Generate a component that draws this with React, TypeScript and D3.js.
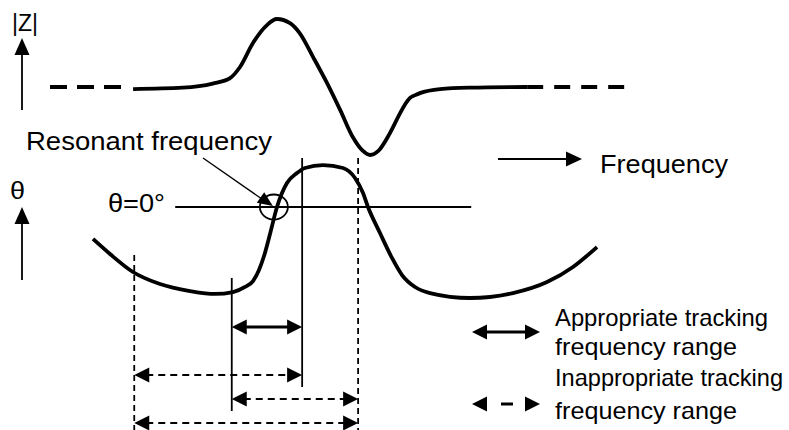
import React from "react";
import * as d3 from "d3";

// ---------- data (frequency in arbitrary units 0..100) ----------
// |Z| relative to its off-resonance level: 0 = flat, +1 = peak, -1 = dip
const impedanceFreq = [14.4, 23.0, 28.2, 31.2, 32.9, 35.2, 37.6, 39.3, 41.6, 43.3, 45.6, 48.0, 50.3, 52.5, 54.1, 55.5, 56.9, 58.9, 60.7, 61.5, 62.4, 63.3, 64.1, 67.6, 72.8, 82.7];
const impedanceValue = [-0.03, -0.01, 0.05, 0.13, 0.29, 0.65, 0.91, 1.0, 0.94, 0.79, 0.44, 0.06, -0.34, -0.74, -0.93, -1.0, -0.94, -0.68, -0.38, -0.26, -0.16, -0.12, -0.09, -0.03, -0.01, 0.0];
const impedanceDashedLeft = [0, 12.5];
const impedanceDashedRight = [82.7, 100];

// phase angle θ in degrees
const phaseFreq = [7.45, 10.4, 14.38, 19.06, 24.26, 28.6, 31.72, 33.8, 35.18, 36.22, 37.09, 38.13, 39.34, 41.07, 42.81, 44.19, 47.31, 50.78, 52.86, 54.25, 55.11, 57.19, 59.27, 61.01, 63.26, 65.86, 72.79, 80.24, 86.14, 90.64, 94.8];
const phaseValue = [-31.6, -46.5, -64.3, -76.2, -83.1, -86.0, -84.1, -79.1, -73.2, -62.3, -48.5, -26.7, 0, 23.7, 33.6, 38.6, 41.5, 38.6, 28.7, 13.8, 0, -25.7, -50.4, -67.3, -79.1, -85.1, -90, -85.1, -74.2, -59.3, -39.6];

const resonantFreq = 38.8;
const zeroLineFreq = [21.7, 73.0];
const boundaryFreqs = [14.6, 31.5, 43.7, 53.4];
const boundaryKinds = ["dashed", "solid", "solid", "dashed"];
const rangeFrom = [31.5, 14.6, 31.5, 14.6];
const rangeTo = [43.7, 43.7, 53.4, 53.4];
const rangeKinds = ["appropriate", "inappropriate", "inappropriate", "inappropriate"];
const legendKinds = ["appropriate", "inappropriate"];
const legendLines = [
  ["Appropriate tracking", "frequency range"],
  ["Inappropriate tracking", "frequency range"],
];

// ---------- layout ----------
const W = 789;
const H = 430;
const FONT = "'Liberation Sans', Arial, Helvetica, sans-serif";
const boundaryTop = [255, 278, 158, 158];
const boundaryBottom = [430, 411, 387, 430];
const rangeRowY = [327, 375, 399, 423];

const x = d3.scaleLinear().domain([0, 100]).range([50, 627]);
const yZ = d3.scaleLinear().domain([-1, 1]).range([155, 19]);
const yT = d3.scaleLinear().domain([-90, 90]).range([298, 116]);

function head(tx: number, ty: number, dx: number, dy: number, len = 15, half = 7.5) {
  const n = Math.hypot(dx, dy);
  const ux = dx / n, uy = dy / n;
  const bx = tx - ux * len, by = ty - uy * len;
  const px = -uy * half, py = ux * half;
  return `${tx},${ty} ${bx + px},${by + py} ${bx - px},${by - py}`;
}

function DoubleArrow({ x1, x2, y, kind }: { x1: number; x2: number; y: number; kind: string }) {
  const solid = kind === "appropriate";
  return (
    <g>
      <line x1={x1 + 12} x2={x2 - 12} y1={y} y2={y} stroke="#000"
        strokeWidth={solid ? 3 : 2} strokeDasharray={solid ? undefined : "7,5"} />
      <polygon points={head(x1, y, -1, 0)} fill="#000" />
      <polygon points={head(x2, y, 1, 0)} fill="#000" />
    </g>
  );
}

export default function App() {
  const zLine = d3.line<number>().x((_, i) => x(impedanceFreq[i])).y((v) => yZ(v)).curve(d3.curveMonotoneX);
  const tLine = d3.line<number>().x((_, i) => x(phaseFreq[i])).y((v) => yT(v)).curve(d3.curveMonotoneX);
  const y0 = yT(0);
  const cx = x(resonantFreq);
  const legendX1 = 472, legendX2 = 540;
  const legendArrowY = [332, 404];
  const legendTextY = [326, 355, 386, 419];
  const legendTextW = [213, 182, 228, 182];

  return (
    <svg width={W} height={H} style={{ position: "absolute", left: 0, top: 0, background: "#fff" }}
      fontFamily={FONT}>
      {/* |Z| axis */}
      <line x1={22} x2={22} y1={110} y2={50} stroke="#000" strokeWidth={1.8} />
      <polygon points={head(22, 38, 0, -1, 17, 7.5)} fill="#000" />
      <text x={12} y={31} fontSize={23} textLength={26} lengthAdjust="spacingAndGlyphs">|Z|</text>

      {/* θ axis */}
      <line x1={22} x2={22} y1={280} y2={218} stroke="#000" strokeWidth={1.8} />
      <polygon points={head(22, 207, 0, -1, 17, 7.5)} fill="#000" />
      <text x={10} y={199} fontSize={24} textLength={15} lengthAdjust="spacingAndGlyphs">θ</text>

      {/* impedance curve */}
      <line x1={x(impedanceDashedLeft[0])} x2={x(impedanceDashedLeft[1])} y1={yZ(0)} y2={yZ(0)}
        stroke="#000" strokeWidth={3.8} strokeDasharray="17,10" />
      <line x1={x(impedanceDashedRight[0])} x2={x(impedanceDashedRight[1])} y1={yZ(0)} y2={yZ(0)}
        stroke="#000" strokeWidth={3.8} strokeDasharray="16,11" />
      <path d={zLine(impedanceValue) || ""} fill="none" stroke="#000" strokeWidth={3.8} strokeLinejoin="round" />

      {/* Frequency arrow */}
      <line x1={498} x2={570} y1={159} y2={159} stroke="#000" strokeWidth={1.8} />
      <polygon points={head(582, 159, 1, 0, 16, 7.5)} fill="#000" />
      <text x={600} y={173} fontSize={25} textLength={128} lengthAdjust="spacingAndGlyphs">Frequency</text>

      {/* Resonant frequency label */}
      <text x={26} y={150} fontSize={25} textLength={246} lengthAdjust="spacingAndGlyphs">Resonant frequency</text>
      <line x1={203} y1={158} x2={cx - 12} y2={y0 - 8} stroke="#000" strokeWidth={1.4} />
      <polygon points={head(cx - 1, y0 - 1, cx - 1 - 203, y0 - 1 - 158, 15, 6.5)} fill="#000" />

      {/* θ = 0 line */}
      <line x1={x(zeroLineFreq[0])} x2={x(zeroLineFreq[1])} y1={y0} y2={y0} stroke="#000" strokeWidth={1.8} />
      <text x={108} y={212} fontSize={25} textLength={57} lengthAdjust="spacingAndGlyphs">θ=0°</text>

      {/* boundary lines */}
      {boundaryFreqs.map((f, i) => (
        <line key={i} x1={x(f)} x2={x(f)} y1={boundaryTop[i]} y2={boundaryBottom[i]} stroke="#000"
          strokeWidth={1.8} strokeDasharray={boundaryKinds[i] === "dashed" ? "6,4" : undefined} />
      ))}

      {/* phase curve */}
      <path d={tLine(phaseValue) || ""} fill="none" stroke="#000" strokeWidth={3.8} strokeLinejoin="round" />

      {/* resonance circle */}
      <ellipse cx={cx} cy={y0} rx={14} ry={12.5} fill="none" stroke="#000" strokeWidth={1.8} />

      {/* range arrows */}
      {rangeFrom.map((f, i) => (
        <DoubleArrow key={i} x1={x(f)} x2={x(rangeTo[i])} y={rangeRowY[i]} kind={rangeKinds[i]} />
      ))}

      {/* legend */}
      {legendKinds.map((k, i) => (
        <g key={k}>
          {k === "appropriate" ? (
            <line x1={legendX1 + 12} x2={legendX2 - 12} y1={legendArrowY[i]} y2={legendArrowY[i]} stroke="#000" strokeWidth={3} />
          ) : (
            <line x1={501} x2={513} y1={legendArrowY[i]} y2={legendArrowY[i]} stroke="#000" strokeWidth={3} />
          )}
          <polygon points={head(legendX1, legendArrowY[i], -1, 0)} fill="#000" />
          <polygon points={head(legendX2, legendArrowY[i], 1, 0)} fill="#000" />
        </g>
      ))}
      {legendLines.flat().map((t, i) => (
        <text key={i} x={555} y={legendTextY[i]} fontSize={24} textLength={legendTextW[i]} lengthAdjust="spacingAndGlyphs">{t}</text>
      ))}
    </svg>
  );
}
